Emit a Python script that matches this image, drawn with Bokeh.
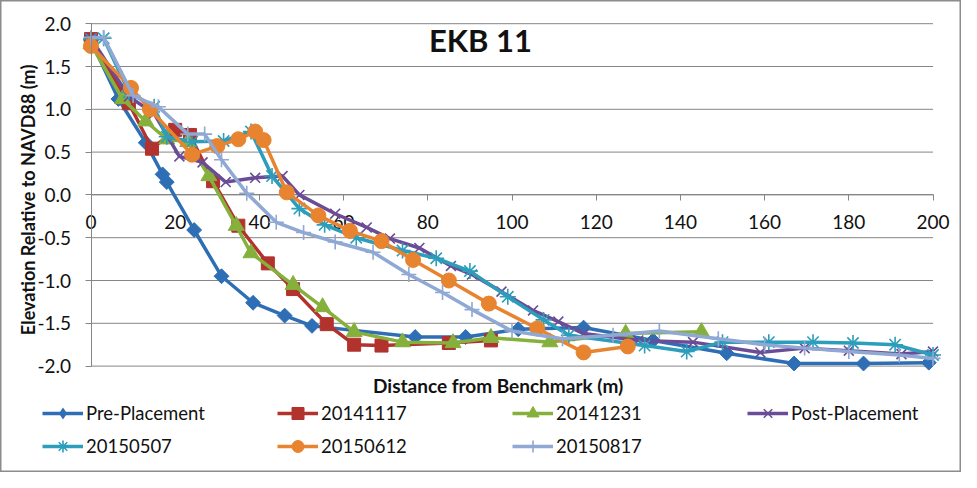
import math
from bokeh.plotting import figure
from bokeh.models import Legend, LegendItem, Label, NumeralTickFormatter, FixedTicker, Range1d
from bokeh.embed import file_html
from bokeh.resources import INLINE

# ---------------- data ----------------
title_text = "EKB 11"
x_label = "Distance from Benchmark (m)"
y_label = "Elevation Relative to NAVD88 (m)"
x_ticks = [0, 20, 40, 60, 80, 100, 120, 140, 160, 180, 200]
y_ticks = [-2.0, -1.5, -1.0, -0.5, 0.0, 0.5, 1.0, 1.5, 2.0]

pre_x = [0, 6.5, 13, 17, 18, 24.5, 31, 38.5, 46, 52.5, 77, 89, 101.5, 117, 133.5, 151, 167, 183.5, 199]
pre_y = [1.8, 1.12, 0.61, 0.24, 0.15, -0.41, -0.95, -1.26, -1.41, -1.53, -1.66, -1.66, -1.57, -1.55, -1.7, -1.85, -1.97, -1.97, -1.96]

s1117_x = [0, 9, 14.5, 20, 23.5, 29, 35, 42, 48, 56, 62.5, 69, 85, 95]
s1117_y = [1.82, 1.07, 0.54, 0.76, 0.7, 0.16, -0.36, -0.8, -1.1, -1.51, -1.75, -1.76, -1.73, -1.7]

s1231_x = [0, 7.5, 13, 18, 23, 28, 34.5, 38, 48, 55, 62.5, 74, 86, 95, 109, 127, 145]
s1231_y = [1.76, 1.12, 0.86, 0.65, 0.62, 0.22, -0.36, -0.68, -1.05, -1.31, -1.6, -1.72, -1.73, -1.67, -1.72, -1.62, -1.6]

post_x = [0, 9, 15, 21, 26.5, 32, 39, 45.5, 49.5, 58, 65.5, 71, 78, 85.5, 90.5, 97.5, 105, 111, 117, 130, 143, 159, 169.5, 180, 192.5, 200]
post_y = [1.83, 1.15, 0.95, 0.45, 0.38, 0.15, 0.2, 0.22, 0.0, -0.22, -0.38, -0.51, -0.62, -0.83, -0.93, -1.13, -1.35, -1.48, -1.62, -1.7, -1.72, -1.84, -1.79, -1.82, -1.86, -1.83]

s0507_x = [0, 3, 9, 15, 18, 24, 31.5, 38, 43, 49.5, 55.5, 63, 74, 82, 90, 99, 107.5, 113.5, 131.5, 141.5, 150, 161, 171.5, 181, 191, 200]
s0507_y = [1.82, 1.83, 1.2, 1.03, 0.68, 0.62, 0.63, 0.74, 0.22, -0.16, -0.35, -0.5, -0.65, -0.74, -0.89, -1.19, -1.46, -1.64, -1.76, -1.83, -1.72, -1.72, -1.72, -1.73, -1.75, -1.87]

s0612_x = [0, 9.5, 14, 24, 30, 35, 39, 41, 46.5, 54, 61.5, 69, 76.5, 85, 94.5, 106, 117, 127.5]
s0612_y = [1.74, 1.25, 1.0, 0.47, 0.57, 0.65, 0.74, 0.64, 0.03, -0.24, -0.42, -0.54, -0.76, -1.0, -1.27, -1.56, -1.84, -1.77]

s0817_x = [0, 3, 10, 16, 23, 27, 31, 37, 44, 50.5, 58, 67, 75.5, 83.5, 90.5, 100, 112, 124, 135, 149, 160, 169.5, 180, 192, 200]
s0817_y = [1.84, 1.84, 1.16, 1.03, 0.71, 0.71, 0.41, 0.02, -0.32, -0.44, -0.55, -0.67, -0.93, -1.14, -1.34, -1.59, -1.68, -1.64, -1.59, -1.68, -1.75, -1.79, -1.83, -1.87, -1.91]

# name, x, y, colour, plot marker, size, angle, legend marker
series = [
    ("Pre-Placement", pre_x, pre_y, "#2E6EB5", "square", 10.5, math.pi / 4, "diamond"),
    ("20141117", s1117_x, s1117_y, "#B2322E", "square", 13, 0, None),
    ("20141231", s1231_x, s1231_y, "#86B03C", "triangle", 16, 0, None),
    ("Post-Placement", post_x, post_y, "#6B4C96", "x", 14, 0, None),
    ("20150507", s0507_x, s0507_y, "#2C9DBA", "asterisk", 16, 0, None),
    ("20150612", s0612_x, s0612_y, "#E8842F", "circle", 15, 0, None),
    ("20150817", s0817_x, s0817_y, "#8FA8D4", "cross", 15, 0, None),
]

FONT = "Lato"
GRAY = "#868686"
TXT = "#111111"

W, H = 961, 472
# frame covers the whole canvas; data 0..200 / -2..2 mapped to the plot area
XL, XR = 90.5, 932.5      # plot area in canvas pixels
YT, YB = 23.2, 365.6
xs_per_px = 200.0 / (XR - XL)
ys_per_px = 4.0 / (YB - YT)
x_range = Range1d(0 - XL * xs_per_px, 200 + (W - XR) * xs_per_px)
y_range = Range1d(-2 - (H - YB) * ys_per_px, 2 + YT * ys_per_px)

p = figure(width=W, height=H, x_range=x_range, y_range=y_range,
           output_backend="svg", toolbar_location=None, min_border=0)
p.title.visible = False
p.outline_line_color = "#8c8c8c"
p.outline_line_width = 2
p.background_fill_color = "white"
p.border_fill_color = "white"
p.xgrid.visible = False
p.ygrid.visible = False

# horizontal gridlines across the plot area only
p.segment(x0=x_ticks[0], x1=x_ticks[-1], y0=y_ticks, y1=y_ticks,
          line_color=GRAY, line_width=1, level="underlay")

# y axis at x = 0
p.yaxis.fixed_location = 0
p.yaxis.bounds = (y_ticks[0], y_ticks[-1])
p.yaxis.ticker = FixedTicker(ticks=y_ticks)
p.yaxis.formatter = NumeralTickFormatter(format="0.0")
p.yaxis.axis_line_color = GRAY
p.yaxis.major_tick_line_color = GRAY
p.yaxis.major_tick_out = 6
p.yaxis.major_tick_in = 0
p.yaxis.minor_tick_line_color = None
p.yaxis.major_label_text_font = FONT
p.yaxis.major_label_text_font_size = "19px"
p.yaxis.major_label_text_color = TXT
p.yaxis.major_label_standoff = 14

# x axis at y = 0
p.xaxis.fixed_location = 0
p.xaxis.level = "underlay"
p.xaxis.bounds = (x_ticks[0], x_ticks[-1])
p.xaxis.ticker = FixedTicker(ticks=x_ticks)
p.xaxis.axis_line_color = GRAY
p.xaxis.major_tick_line_color = GRAY
p.xaxis.major_tick_out = 6
p.xaxis.major_tick_in = 0
p.xaxis.minor_tick_line_color = None
p.xaxis.major_label_text_font = FONT
p.xaxis.major_label_text_font_size = "19px"
p.xaxis.major_label_text_color = TXT
p.xaxis.major_label_standoff = 14

items = []
for name, xs, ys, col, mk, sz, ang, leg_mk in series:
    ln = p.line(xs, ys, line_color=col, line_width=3.5)
    if mk in ("x", "asterisk", "cross"):
        sc = p.scatter(xs, ys, marker=mk, size=sz, line_color=col, line_width=1.6, fill_color=col)
    else:
        sc = p.scatter(xs, ys, marker=mk, size=sz, angle=ang, line_color=col, fill_color=col)
    if leg_mk is not None:
        # legend-only marker: zero size in the plot, legend sizes it from its box
        sc = p.scatter(xs[:1], ys[:1], marker=leg_mk, size=0, line_color=None, fill_color=col)
    items.append(LegendItem(label=name, renderers=[ln, sc]))

legend = Legend(items=items, orientation="horizontal", ncols=4,
                location=(42, 10), padding=0, margin=0, spacing=0,
                glyph_width=41, glyph_height=30, label_height=33, label_width=191,
                label_standoff=3, border_line_color=None, background_fill_alpha=0,
                label_text_font=FONT, label_text_font_size="18.5px", label_text_color=TXT)
p.add_layout(legend)

p.add_layout(Label(x=92.5, y=1.807, text=title_text, text_font=FONT, text_font_style="bold",
                   text_font_size="31px", text_align="center", text_baseline="middle",
                   text_color=TXT))
p.add_layout(Label(x=96.7, y=-2.0, y_offset=-19.5, text=x_label, text_font=FONT, text_font_style="bold",
                   text_font_size="19px", text_align="center", text_baseline="middle",
                   text_color=TXT))
p.add_layout(Label(x=0, y=0, x_offset=-63.5, y_offset=-5, angle=math.pi / 2, text=y_label,
                   text_font=FONT, text_font_style="bold", text_font_size="18px",
                   text_align="center", text_baseline="middle", text_color=TXT))

open("out.html", "w").write(file_html(p, INLINE))
